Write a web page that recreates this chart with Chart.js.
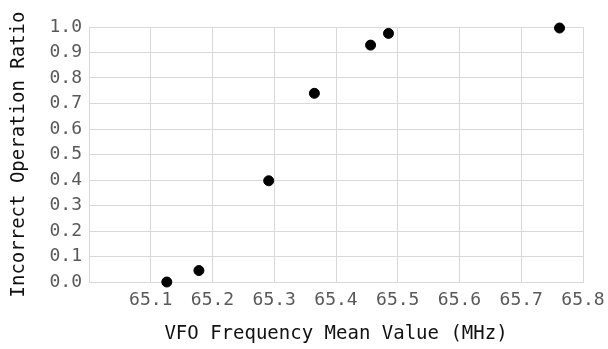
<!DOCTYPE html>
<html>
<head>
<meta charset="utf-8">
<script src="https://cdn.jsdelivr.net/npm/chart.js@4/dist/chart.umd.min.js"></script>
<style>
  html, body { margin: 0; padding: 0; background: #fff; }
  #wrap { width: 608px; height: 349px; }
</style>
</head>
<body>
<div id="wrap"><canvas id="scatterChart"></canvas></div>
<script>
// values
const freqMean = [65.126, 65.178, 65.291, 65.365, 65.456, 65.485, 65.762];
const errorRatio = [0.0, 0.045, 0.397, 0.74, 0.929, 0.975, 0.996];
const xTitle = 'VFO Frequency Mean Value (MHz)';
const yTitle = 'Incorrect Operation Ratio';

const monoFont = '"DejaVu Sans Mono", "Liberation Mono", monospace';

document.addEventListener('DOMContentLoaded', function() {
    var ctx = document.getElementById('scatterChart').getContext('2d');

    var points = freqMean.map(function(x, i) {
        return { x: x, y: errorRatio[i] };
    });

    new Chart(ctx, {
        type: 'scatter',
        data: {
            datasets: [{
                data: points,
                backgroundColor: '#000',
                borderColor: '#000',
                pointRadius: 5,
                pointHoverRadius: 5,
                clip: false
            }]
        },
        options: {
            responsive: true,
            maintainAspectRatio: false,
            animation: false,
            layout: { padding: { top: 27, right: 25, left: 8, bottom: 4 } },
            plugins: {
                legend: { display: false },
                tooltip: { enabled: false }
            },
            scales: {
                x: {
                    type: 'linear',
                    min: 65.0,
                    max: 65.8,
                    afterFit: function(scale) {
                        scale.height = 63;
                        scale.paddingLeft = 0;
                        scale.paddingRight = 0;
                    },
                    grid: { color: '#d9d9d9', drawTicks: false },
                    border: { color: '#d9d9d9' },
                    ticks: {
                        stepSize: 0.1,
                        padding: 8,
                        color: '#595959',
                        font: { family: monoFont, size: 18 },
                        maxRotation: 0,
                        autoSkip: false,
                        callback: function(v) {
                            if (Math.abs(v - 65.0) < 1e-6) return '';
                            return v.toFixed(1);
                        }
                    },
                    title: {
                        display: true,
                        text: xTitle,
                        color: '#111',
                        font: { family: monoFont, size: 19 },
                        padding: { top: 8, bottom: 0 }
                    }
                },
                y: {
                    min: 0,
                    max: 1,
                    afterFit: function(scale) {
                        scale.width = 81;
                        scale.paddingTop = 0;
                        scale.paddingBottom = 0;
                    },
                    grid: { color: '#d9d9d9', drawTicks: false },
                    border: { color: '#d9d9d9' },
                    ticks: {
                        stepSize: 0.1,
                        padding: 7,
                        color: '#595959',
                        font: { family: monoFont, size: 18 },
                        callback: function(v) { return v.toFixed(1); }
                    },
                    title: {
                        display: true,
                        text: yTitle,
                        color: '#111',
                        font: { family: monoFont, size: 19 },
                        padding: { top: 0, bottom: 6 }
                    }
                }
            }
        }
    });
});
</script>
</body>
</html>
